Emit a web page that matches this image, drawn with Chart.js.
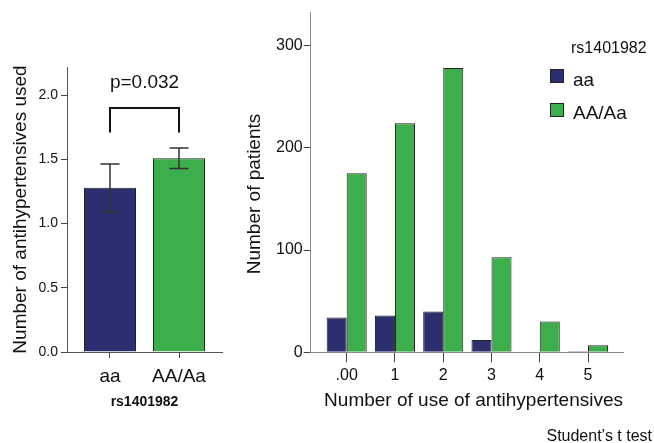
<!DOCTYPE html>
<html>
<head>
<meta charset="utf-8">
<title>rs1401982 antihypertensives</title>
<script src="https://cdn.jsdelivr.net/npm/chart.js@4/dist/chart.umd.min.js"></script>
<style>
  body { margin: 0; background: #fff; }
  #wrap { position: relative; width: 654px; height: 443px; }
  #leftBox { position: absolute; left: 0; top: 0; width: 230px; height: 443px; }
  #rightBox { position: absolute; left: 230px; top: 0; width: 424px; height: 443px; }
</style>
</head>
<body>
<div id="wrap">
  <div id="leftBox"><canvas id="meanChart"></canvas></div>
  <div id="rightBox"><canvas id="countChart"></canvas></div>
</div>
<script>
// Dados do painel esquerdo (média ± erro)
const groupLabels = ['aa', 'AA/Aa'];
const groupPos = [0, 1];
const meanValues = [1.28, 1.51];
const meanErrors = [0.185, 0.08];
const meanTicks = [0, 0.5, 1, 1.5, 2];
const pValueText = 'p=0.032';
const bracketTop = 1.9;
const bracketLeg = 1.71;
const pTextLevel = 2.1;

// Dados do painel direito (contagem de pacientes)
const useValues = [0, 1, 2, 3, 4, 5];
const useLabels = ['.00', '1', '2', '3', '4', '5'];
const aaCounts = [34, 36, 40, 12, 0, 1];
const dominantCounts = [175, 224, 278, 93, 30, 7];
const countTicks = [0, 100, 200, 300];

const navy = '#2c2f6f';
const green = '#3cae4b';
const fontFamily = '"Liberation Sans", Arial, sans-serif';

Chart.defaults.font.family = fontFamily;
Chart.defaults.color = '#111';

// Barras de erro, colchete e valor de p
const meanExtras = {
    id: 'meanExtras',
    afterDatasetsDraw(chart) {
        const { ctx, scales: { x, y } } = chart;
        ctx.save();
        ctx.strokeStyle = '#333';
        ctx.lineWidth = 1.5;
        groupPos.forEach((g, i) => {
            const px = x.getPixelForValue(g);
            const hi = y.getPixelForValue(meanValues[i] + meanErrors[i]);
            const lo = y.getPixelForValue(meanValues[i] - meanErrors[i]);
            ctx.beginPath();
            ctx.moveTo(px, hi); ctx.lineTo(px, lo);
            ctx.moveTo(px - 9.5, hi); ctx.lineTo(px + 9.5, hi);
            ctx.moveTo(px - 9.5, lo); ctx.lineTo(px + 9.5, lo);
            ctx.stroke();
        });

        const x0 = x.getPixelForValue(groupPos[0]);
        const x1 = x.getPixelForValue(groupPos[1]);
        const yTop = y.getPixelForValue(bracketTop);
        const yLeg = y.getPixelForValue(bracketLeg);
        ctx.strokeStyle = '#111';
        ctx.lineWidth = 2;
        ctx.beginPath();
        ctx.moveTo(x0, yLeg); ctx.lineTo(x0, yTop);
        ctx.lineTo(x1, yTop); ctx.lineTo(x1, yLeg);
        ctx.stroke();

        ctx.font = '19px ' + fontFamily;
        ctx.fillStyle = '#111';
        ctx.textAlign = 'center';
        ctx.textBaseline = 'middle';
        ctx.fillText(pValueText, (x0 + x1) / 2, y.getPixelForValue(pTextLevel));
        ctx.restore();
    }
};

// Legenda, título do eixo y e nota do teste
const countExtras = {
    id: 'countExtras',
    afterDraw(chart) {
        const ctx = chart.ctx;
        ctx.save();
        ctx.fillStyle = '#111';
        ctx.textAlign = 'left';
        ctx.textBaseline = 'alphabetic';
        ctx.font = '16px ' + fontFamily;
        ctx.fillText('rs1401982', 341, 53);

        const rows = [{ box: 69, base: 86 }, { box: 103, base: 119 }];
        chart.data.datasets.forEach((ds, i) => {
            ctx.fillStyle = ds.backgroundColor;
            ctx.fillRect(320, rows[i].box, 14, 14);
            ctx.strokeStyle = '#222';
            ctx.lineWidth = 1;
            ctx.strokeRect(320.5, rows[i].box + 0.5, 13, 13);
            ctx.fillStyle = '#111';
            ctx.font = '19px ' + fontFamily;
            ctx.fillText(ds.label, 343, rows[i].base);
        });

        ctx.font = '16px ' + fontFamily;
        ctx.textAlign = 'right';
        ctx.fillText('Student\u2019s t test', 422, 441);

        ctx.translate(25, 194);
        ctx.rotate(-Math.PI / 2);
        ctx.textAlign = 'center';
        ctx.textBaseline = 'middle';
        ctx.font = '19px ' + fontFamily;
        ctx.fillText('Number of patients', 0, 0);
        ctx.restore();
    }
};

new Chart(document.getElementById('meanChart'), {
    type: 'bar',
    data: {
        datasets: [{
            label: 'mean',
            data: groupPos.map((g, i) => ({ x: g, y: meanValues[i] })),
            backgroundColor: [navy, green],
            borderColor: '#222',
            borderWidth: 1,
            barPercentage: 0.754,
            categoryPercentage: 1
        }]
    },
    options: {
        responsive: true,
        maintainAspectRatio: false,
        animation: false,
        layout: { padding: { left: 4, top: 67, right: 8, bottom: 0 } },
        plugins: { legend: { display: false }, tooltip: { enabled: false } },
        scales: {
            x: {
                type: 'linear',
                min: -0.623,
                max: 1.623,
                offset: false,
                afterBuildTicks: ax => { ax.ticks = groupPos.map(v => ({ value: v })); },
                afterFit: ax => { ax.height = 91; },
                grid: { drawOnChartArea: false, drawTicks: true, tickLength: 6, tickColor: '#444', offset: false },
                border: { display: true, color: '#555', width: 1 },
                ticks: {
                    font: { size: 19 }, color: '#111', padding: 7, maxRotation: 0, autoSkip: false,
                    callback: v => groupLabels[groupPos.indexOf(v)]
                },
                title: {
                    display: true, text: 'rs1401982', color: '#111',
                    font: { size: 14, weight: 'bold' }, padding: { top: 0, bottom: 32 }
                }
            },
            y: {
                min: 0,
                max: 2.22,
                afterBuildTicks: ax => { ax.ticks = meanTicks.map(v => ({ value: v })); },
                afterFit: ax => { ax.width = 63; },
                grid: { drawOnChartArea: false, drawTicks: true, tickLength: 6, tickColor: '#444' },
                border: { display: true, color: '#555', width: 1 },
                ticks: { font: { size: 14 }, color: '#111', padding: 3, callback: v => v.toFixed(1) },
                title: {
                    display: true, text: 'Number of antihypertensives used', color: '#111',
                    font: { size: 19 }, padding: { top: 5, bottom: 0 }
                }
            }
        }
    },
    plugins: [meanExtras]
});

new Chart(document.getElementById('countChart'), {
    type: 'bar',
    data: {
        datasets: [
            {
                label: 'aa',
                data: useValues.map((u, i) => ({ x: u, y: aaCounts[i] })),
                backgroundColor: navy,
                borderColor: '#222',
                borderWidth: 1,
                barPercentage: 1,
                categoryPercentage: 0.83
            },
            {
                label: 'AA/Aa',
                data: useValues.map((u, i) => ({ x: u, y: dominantCounts[i] })),
                backgroundColor: green,
                borderColor: '#222',
                borderWidth: 1,
                barPercentage: 1,
                categoryPercentage: 0.83
            }
        ]
    },
    options: {
        responsive: true,
        maintainAspectRatio: false,
        animation: false,
        layout: { padding: { left: 10, top: 12.7, right: 31, bottom: 0 } },
        plugins: { legend: { display: false }, tooltip: { enabled: false } },
        scales: {
            x: {
                type: 'linear',
                min: -0.746,
                max: 5.725,
                offset: false,
                afterBuildTicks: ax => { ax.ticks = useValues.map(v => ({ value: v })); },
                afterFit: ax => { ax.height = 90.7; },
                grid: { drawOnChartArea: false, drawTicks: true, tickLength: 10, tickColor: '#444', offset: false },
                border: { display: true, color: '#888', width: 1 },
                ticks: {
                    font: { size: 16 }, color: '#111', padding: 4, maxRotation: 0, autoSkip: false,
                    callback: v => useLabels[useValues.indexOf(v)]
                },
                title: {
                    display: true, text: 'Number of use of antihypertensives', color: '#111',
                    align: 'end', font: { size: 19 }, padding: { top: 0, bottom: 31 }
                }
            },
            y: {
                min: 0,
                max: 332,
                afterBuildTicks: ax => { ax.ticks = countTicks.map(v => ({ value: v })); },
                afterFit: ax => { ax.width = 70.7; },
                grid: { drawOnChartArea: false, drawTicks: true, tickLength: 7, tickColor: '#444' },
                border: { display: true, color: '#888', width: 1 },
                ticks: { font: { size: 16 }, color: '#111', padding: 1 },
                title: { display: false }
            }
        }
    },
    plugins: [countExtras]
});
</script>
</body>
</html>
